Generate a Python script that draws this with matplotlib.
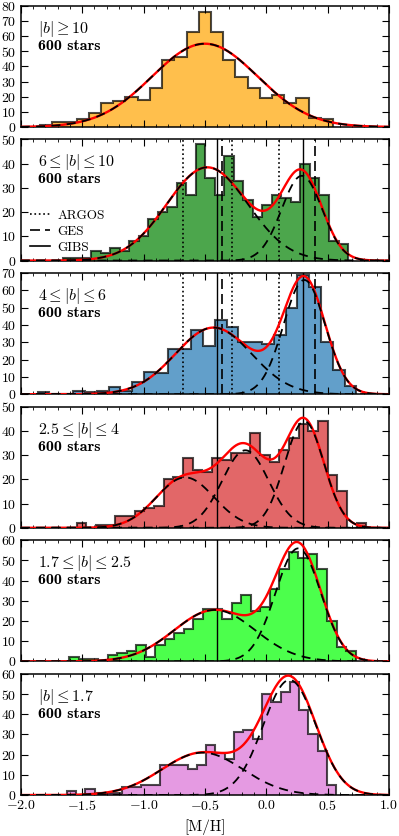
import numpy as np
import matplotlib
matplotlib.use("Agg")
import matplotlib.pyplot as plt
from matplotlib.lines import Line2D
from matplotlib.ticker import MultipleLocator

plt.rcParams["font.family"] = "serif"
plt.rcParams["font.serif"] = ["cmr10"]
plt.rcParams["mathtext.fontset"] = "cm"
plt.rcParams["axes.formatter.use_mathtext"] = True
plt.rcParams["axes.unicode_minus"] = True

# latitude bins, top to bottom
labels = [
    r"$|b| \geq 10$",
    r"$6 \leq |b| \leq 10$",
    r"$4 \leq |b| \leq 6$",
    r"$2.5 \leq |b| \leq 4$",
    r"$1.7 \leq |b| \leq 2.5$",
    r"$|b| \leq 1.7$",
]
n_stars = [600, 600, 600, 600, 600, 600]

# histogram range (lo, hi) of [M/H] per panel
hist_range = [
    (-1.843, 0.544),
    (-1.658, 0.666),
    (-1.862, 0.735),
    (-1.544, 0.815),
    (-1.604, 0.728),
    (-1.626, 0.571),
]

counts_b10 = [1, 3, 3, 5, 9, 16, 17, 20, 18, 26, 44, 46, 63, 76, 63, 44,
              33, 26, 19, 21, 16, 19, 6, 5]
counts_b6_10 = [1, 1, 1, 4, 3, 5, 4, 8, 10, 17, 20, 22, 32, 27, 48, 34, 27,
                43, 33, 25, 18, 23, 27, 26, 24, 40, 34, 27, 8, 7]
counts_b4_6 = [1, 0, 0, 2, 1, 2, 4, 2, 7, 13, 12, 26, 26, 37, 28, 43, 39, 30,
               30, 29, 34, 50, 69, 62, 30, 14, 5]
counts_b25_4 = [2, 0, 1, 1, 5, 5, 7, 8, 9, 20, 21, 29, 24, 23, 29, 28, 31, 31,
                39, 30, 27, 32, 37, 43, 40, 44, 22, 15, 0, 2]
counts_b17_25 = [2, 1, 1, 0, 3, 4, 5, 8, 2, 8, 11, 14, 16, 21, 26, 26, 21, 29,
                 33, 25, 27, 36, 46, 54, 51, 53, 46, 20, 7, 5]
counts_b0_17 = [2, 0, 3, 1, 1, 1, 4, 4, 5, 5, 15, 15, 15, 13, 15, 25, 21, 18,
                31, 32, 28, 50, 46, 51, 56, 42, 30, 22, 5]
counts = [counts_b10, counts_b6_10, counts_b4_6, counts_b25_4, counts_b17_25,
          counts_b0_17]

# gaussian components (mean, sigma, amplitude in counts/bin)
gauss = [
    [(-0.50, 0.43, 55.0)],
    [(-0.48, 0.33, 38.5), (0.29, 0.165, 35.0)],
    [(-0.43, 0.31, 38.5), (0.31, 0.17, 66.0)],
    [(-0.66, 0.235, 20.8), (-0.17, 0.19, 32.0), (0.31, 0.16, 44.0)],
    [(-0.42, 0.33, 25.5), (0.26, 0.185, 56.0)],
    [(-0.52, 0.33, 21.0), (0.19, 0.215, 57.0)],
]

# literature peaks
argos = [-0.68, -0.28, 0.10]
ges = [-0.36, 0.40]
gibs = [-0.40, 0.30]
show_argos_ges = [False, True, True, False, False, False]
show_gibs = [False, True, True, True, True, False]

ymax = [80, 50, 70, 50, 60, 60]
colors = ["orange", "green", "#1f77b4", "#d62728", "lime", "orchid"]

x = np.linspace(-2.0, 1.0, 800)


def gaussian(x, mu, sig, amp):
    return amp * np.exp(-0.5 * ((x - mu) / sig) ** 2)


fig, axes = plt.subplots(6, 1, figsize=(3.99, 8.36), sharex=True)
fig.subplots_adjust(left=0.052, right=0.975, top=0.993, bottom=0.049,
                    hspace=0.103)

for i, ax in enumerate(axes):
    lo, hi = hist_range[i]
    edges = np.linspace(lo, hi, len(counts[i]) + 1)
    ax.stairs(counts[i], edges, fill=True, color=colors[i], alpha=0.7,
              zorder=1)
    ax.stairs(counts[i], edges, color="k", alpha=0.7, lw=1.5, zorder=2)

    if show_argos_ges[i]:
        for v in argos:
            ax.axvline(v, color="k", ls=":", lw=1.2, zorder=3)
        for v in ges:
            ax.axvline(v, color="k", ls="--", lw=1.2, dashes=(6, 3), zorder=3)
    if show_gibs[i]:
        for v in gibs:
            ax.axvline(v, color="k", ls="-", lw=1.0, zorder=3)

    total = np.zeros_like(x)
    for mu, sig, amp in gauss[i]:
        total += gaussian(x, mu, sig, amp)
    ax.plot(x, total, color="red", lw=1.7, zorder=4)
    for mu, sig, amp in gauss[i]:
        ax.plot(x, gaussian(x, mu, sig, amp), color="k", ls="--", lw=1.3,
                dashes=(5, 3.5), zorder=5)

    ax.text(0.047, 0.81, labels[i], transform=ax.transAxes, fontsize=11.5,
            va="center", ha="left")
    ax.text(0.047, 0.67, "%d stars" % n_stars[i], family="cmb10",
            transform=ax.transAxes, fontsize=11.5, va="center", ha="left")

    ax.set_xlim(-2.0, 1.0)
    ax.set_ylim(0, ymax[i])
    ax.xaxis.set_major_locator(MultipleLocator(0.5))
    ax.xaxis.set_minor_locator(MultipleLocator(0.1))
    ax.yaxis.set_major_locator(MultipleLocator(10))
    ax.tick_params(which="both", direction="in", top=True, right=True,
                   labelsize=10, pad=3)
    ax.tick_params(which="major", length=5)
    ax.tick_params(which="minor", length=2.5)
    for sp in ax.spines.values():
        sp.set_linewidth(1.1)

handles = [
    Line2D([], [], color="k", ls=":", lw=1.2),
    Line2D([], [], color="k", ls="--", lw=1.2, dashes=(6, 3)),
    Line2D([], [], color="k", ls="-", lw=1.2),
]
axes[1].legend(handles, ["ARGOS", "GES", "GIBS"], loc="upper left",
               bbox_to_anchor=(0.0, 0.50), frameon=False, fontsize=9.5,
               handlelength=1.5, handletextpad=0.6, labelspacing=0.3,
               borderaxespad=0.3)

axes[-1].set_xlabel("[M/H]", fontsize=11)

fig.savefig("out.png", dpi=100)
